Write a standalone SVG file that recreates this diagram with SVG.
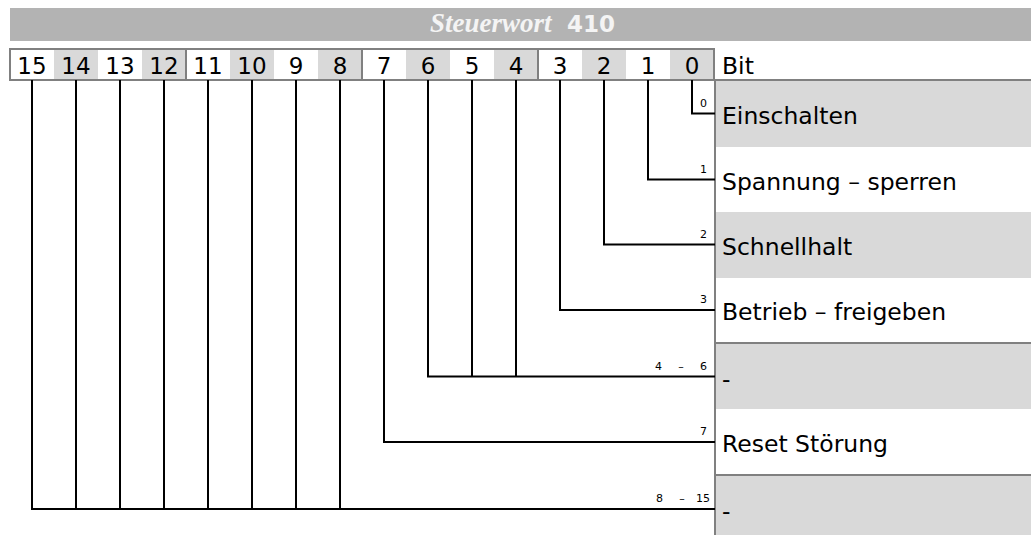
<svg xmlns="http://www.w3.org/2000/svg" width="1031" height="535" viewBox="0 0 1031 535">
<style>
.g{fill:#d9d9d9}
.w{fill:#ffffff}
.bd{stroke:#808080;stroke-width:2;fill:none}
.ln{stroke:#000;stroke-width:2;fill:none}
.num{font-family:"DejaVu Sans",Verdana,sans-serif;font-size:23px;fill:#000;text-anchor:middle}
.lbl{font-family:"DejaVu Sans",Verdana,sans-serif;font-size:23.5px;fill:#000}
.sm{font-family:"DejaVu Sans",Verdana,sans-serif;font-size:11px;fill:#000}
.end{text-anchor:end}
.mid{text-anchor:middle}
</style>
<rect width="1031" height="535" fill="#fff"/>
<g id="title">
<rect x="10" y="8" width="1021" height="33" fill="#b3b3b3"/>
<text x="430" y="32" font-family="'Liberation Serif','Times New Roman',serif" font-style="italic" font-weight="bold" font-size="27" fill="#f4f4f4">Steuerwort</text>
<text x="567" y="32" font-family="'DejaVu Sans',Verdana,sans-serif" font-weight="bold" font-size="23" fill="#f4f4f4">410</text>
</g>
<g id="bitrow">
<rect x="54" y="49" width="44" height="31" class="g"/>
<rect x="142" y="49" width="44" height="31" class="g"/>
<rect x="230" y="49" width="44" height="31" class="g"/>
<rect x="318" y="49" width="44" height="31" class="g"/>
<rect x="406" y="49" width="44" height="31" class="g"/>
<rect x="494" y="49" width="44" height="31" class="g"/>
<rect x="582" y="49" width="44" height="31" class="g"/>
<rect x="670" y="49" width="44" height="31" class="g"/>
<rect x="10" y="49" width="704" height="31" class="bd"/>
<path class="bd" d="M186 49V80M362 49V80M538 49V80M714 80H1031"/>
<text class="num" x="32" y="74">15</text>
<text class="num" x="76" y="74">14</text>
<text class="num" x="120" y="74">13</text>
<text class="num" x="164" y="74">12</text>
<text class="num" x="208" y="74">11</text>
<text class="num" x="252" y="74">10</text>
<text class="num" x="296" y="74">9</text>
<text class="num" x="340" y="74">8</text>
<text class="num" x="384" y="74">7</text>
<text class="num" x="428" y="74">6</text>
<text class="num" x="472" y="74">5</text>
<text class="num" x="516" y="74">4</text>
<text class="num" x="560" y="74">3</text>
<text class="num" x="604" y="74">2</text>
<text class="num" x="648" y="74">1</text>
<text class="num" x="692" y="74">0</text>
<text class="lbl" x="722" y="74">Bit</text>
</g>
<g id="rows">
<rect x="715" y="81" width="316" height="66" class="g"/>
<rect x="715" y="212" width="316" height="66" class="g"/>
<rect x="715" y="343" width="316" height="66" class="g"/>
<rect x="715" y="475" width="316" height="60" class="g"/>
<path class="bd" d="M715 343H1031M715 475H1031M715 80V535"/>
</g>
<g id="connectors">
<path class="ln" d="M692 80V113.5H715"/>
<path class="ln" d="M648 80V179.5H715"/>
<path class="ln" d="M604 80V244.5H715"/>
<path class="ln" d="M560 80V310H715"/>
<path class="ln" d="M516 80V376.5M472 80V376.5M428 80V376.5H715"/>
<path class="ln" d="M384 80V442H715"/>
<path class="ln" d="M340 80V509M296 80V509M252 80V509M208 80V509M164 80V509M120 80V509M76 80V509M32 80V509H715"/>
</g>
<g id="bit0">
<text class="sm end" x="707" y="107">0</text>
<text class="lbl" x="722" y="124">Einschalten</text>
</g>
<g id="bit1">
<text class="sm end" x="707" y="173">1</text>
<text class="lbl" x="722" y="190">Spannung – sperren</text>
</g>
<g id="bit2">
<text class="sm end" x="707" y="238">2</text>
<text class="lbl" x="722" y="255">Schnellhalt</text>
</g>
<g id="bit3">
<text class="sm end" x="707" y="303">3</text>
<text class="lbl" x="722" y="320">Betrieb – freigeben</text>
</g>
<g id="bit4-6">
<text class="sm" x="655" y="370">4</text>
<text class="sm mid" x="681" y="370">–</text>
<text class="sm end" x="707" y="370">6</text>
<text class="lbl" x="722" y="387">-</text>
</g>
<g id="bit7">
<text class="sm end" x="707" y="435">7</text>
<text class="lbl" x="722" y="452">Reset Störung</text>
</g>
<g id="bit8-15">
<text class="sm" x="656" y="502">8</text>
<text class="sm mid" x="682" y="502">–</text>
<text class="sm end" x="710" y="502">15</text>
<text class="lbl" x="722" y="519">-</text>
</g>
</svg>
